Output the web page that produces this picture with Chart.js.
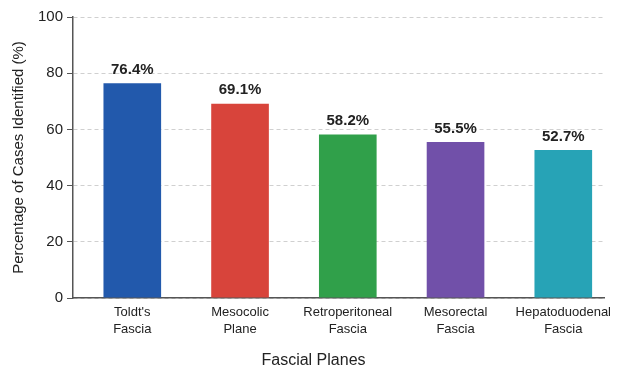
<!DOCTYPE html>
<html>
<head>
<meta charset="utf-8">
<script src="https://cdn.jsdelivr.net/npm/chart.js@4"></script>
<style>
  html, body { margin: 0; padding: 0; background: #fff; }
  #wrap { width: 617px; height: 370px; }
</style>
</head>
<body>
<div id="wrap"><canvas id="myChart"></canvas></div>
<script>
// data
var planes = [["Toldt's", "Fascia"], ["Mesocolic", "Plane"], ["Retroperitoneal", "Fascia"], ["Mesorectal", "Fascia"], ["Hepatoduodenal", "Fascia"]]
var identified = [76.4, 69.1, 58.2, 55.5, 52.7]
var barColors = ["#2259ac", "#d8443b", "#30a04a", "#7150a9", "#27a3b6"]
var yTicks = [0, 20, 40, 60, 80, 100]

Chart.defaults.font.family = "'Liberation Sans', Arial, sans-serif"
Chart.defaults.color = "#333"

// bars sit on a numeric x axis so the side gaps can differ a bit
var points = identified.map(function(v, i){ return { x: i, y: v } })

// percentage labels on top of each bar
var valueLabels = {
    id: 'valueLabels',
    afterDatasetsDraw: function(chart){
        var ctx = chart.ctx
        var meta = chart.getDatasetMeta(0)
        ctx.save()
        ctx.font = "bold 15px 'Liberation Sans', Arial, sans-serif"
        ctx.fillStyle = "#222"
        ctx.textAlign = 'center'
        ctx.textBaseline = 'bottom'
        meta.data.forEach(function(bar, i){
            ctx.fillText(identified[i].toFixed(1) + '%', bar.x, bar.y - 6)
        })
        ctx.restore()
    }
}

var myChart = document.getElementById("myChart").getContext('2d')
var chart = new Chart(myChart, {
    type: 'bar',
    data: {
        datasets: [{
            data: points,
            backgroundColor: barColors,
            barPercentage: 0.535,
            categoryPercentage: 1
        }]
    },
    options: {
        responsive: true,
        maintainAspectRatio: false,
        animation: false,
        layout: { padding: { top: 17, right: 0, left: 10, bottom: 0 } },
        plugins: {
            legend: { display: false },
            tooltip: { enabled: false },
            title: {
                display: true,
                position: 'bottom',
                text: 'Fascial Planes',
                color: '#222',
                font: { size: 16, weight: 'normal' },
                padding: { top: 7, bottom: 0 }
            }
        },
        scales: {
            x: {
                type: 'linear',
                offset: false,
                min: -0.55,
                max: 4.38,
                afterBuildTicks: function(axis){
                    axis.ticks = planes.map(function(p, i){ return { value: i } })
                },
                grid: { display: false, drawTicks: false },
                border: { color: '#555', width: 1.5 },
                ticks: {
                    color: '#222',
                    font: { size: 13, lineHeight: 1.3 },
                    padding: 6,
                    maxRotation: 0,
                    autoSkip: false,
                    callback: function(value){ return planes[value] || '' }
                }
            },
            y: {
                min: 0,
                max: 100,
                afterBuildTicks: function(axis){
                    axis.ticks = yTicks.map(function(v){ return { value: v } })
                },
                grid: {
                    color: '#d0d0d0',
                    tickColor: '#555',
                    tickLength: 6
                },
                border: { color: '#555', width: 1.5, dash: [4, 3] },
                ticks: { color: '#222', font: { size: 15 }, padding: 4 },
                title: {
                    display: true,
                    text: 'Percentage of Cases Identified (%)',
                    color: '#222',
                    font: { size: 15 },
                    padding: { top: 0, bottom: 6 }
                }
            }
        }
    },
    plugins: [valueLabels]
})
</script>
</body>
</html>
